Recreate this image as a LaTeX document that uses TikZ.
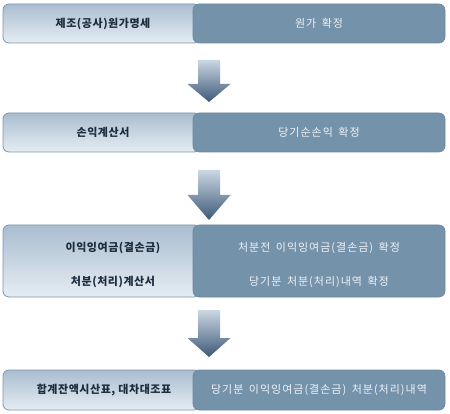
\documentclass[tikz,border=0pt]{standalone}
\usepackage{fontspec}
\newfontfamily\krl[LetterSpace=5]{Noto Sans CJK KR}
\newfontfamily\krr[LetterSpace=9,WordSpace=1.6]{Noto Sans CJK KR}
\definecolor{ltop}{HTML}{A9BDD0}
\definecolor{lbot}{HTML}{E6EDF3}
\definecolor{rfill}{HTML}{7592AB}
\definecolor{bord}{HTML}{7D95AC}
\definecolor{ltext}{HTML}{1C2C3D}
\definecolor{rtext}{HTML}{EEF2F6}
\definecolor{atop}{HTML}{CBD7E3}
\definecolor{abot}{HTML}{3D5978}
\begin{document}
\begin{tikzpicture}[x=1pt,y=-1pt,
  leftbox/.style={rectangle, rounded corners=6pt, draw=bord, line width=0.8pt,
    top color=ltop, bottom color=lbot, minimum width=197pt, inner sep=0pt},
  rightbox/.style={rectangle, rounded corners=6pt, draw=bord!90!black, line width=0.6pt,
    fill=rfill, minimum width=252pt, inner sep=0pt,
    font=\krr\fontsize{11}{13}\selectfont, text=rtext},
  ltxt/.style={font=\krl\bfseries\fontsize{11}{13}\selectfont, text=ltext, inner sep=0pt},
  rtxt/.style={font=\krr\fontsize{11}{13}\selectfont, text=rtext, inner sep=0pt},
  blockarr/.style={top color=atop, bottom color=abot, draw=none}
]
\useasboundingbox (0,0) rectangle (450,414);

% row 1
\node[leftbox, minimum height=39pt] (L1) at (101.5,23.5) {};
\node[rightbox, minimum height=39pt] (R1) at (319,23.5) {원가 확정};
\node[ltxt] (T1) at (103,23.5) {제조(공사)원가명세};

% row 2
\node[leftbox, minimum height=39pt] (L2) at (101.5,132.5) {};
\node[rightbox, minimum height=39pt] (R2) at (319,132.5) {당기순손익 확정};
\node[ltxt] (T2) at (103,132.5) {손익계산서};

% row 3
\node[leftbox, minimum height=72pt] (L3) at (101.5,261) {};
\node[rightbox, minimum height=72pt] (R3) at (319,261) {};
\node[ltxt] (T3a) at (113,248) {이익잉여금(결손금)};
\node[ltxt] (T3b) at (113,282) {처분(처리)계산서};
\node[rtxt] (U3a) at (319,248) {처분전 이익잉여금(결손금) 확정};
\node[rtxt] (U3b) at (319,282) {당기분 처분(처리)내역 확정};

% row 4
\node[leftbox, minimum height=40pt] (L4) at (101.5,390) {};
\node[rightbox, minimum height=40pt] (R4) at (319,390) {당기분 이익잉여금(결손금) 처분(처리)내역};
\node[ltxt] (T4) at (104,390) {합계잔액시산표, 대차대조표};

% block arrows
\shade[blockarr] (198,60) -- (220,60) -- (220,84) -- (230.5,84) -- (209,102) -- (187.5,84) -- (198,84) -- cycle;
\shade[blockarr] (198,170) -- (220,170) -- (220,195) -- (230.5,195) -- (209,220) -- (187.5,195) -- (198,195) -- cycle;
\shade[blockarr] (198,310) -- (220,310) -- (220,338) -- (230.5,338) -- (209,357) -- (187.5,338) -- (198,338) -- cycle;
\end{tikzpicture}
\end{document}
